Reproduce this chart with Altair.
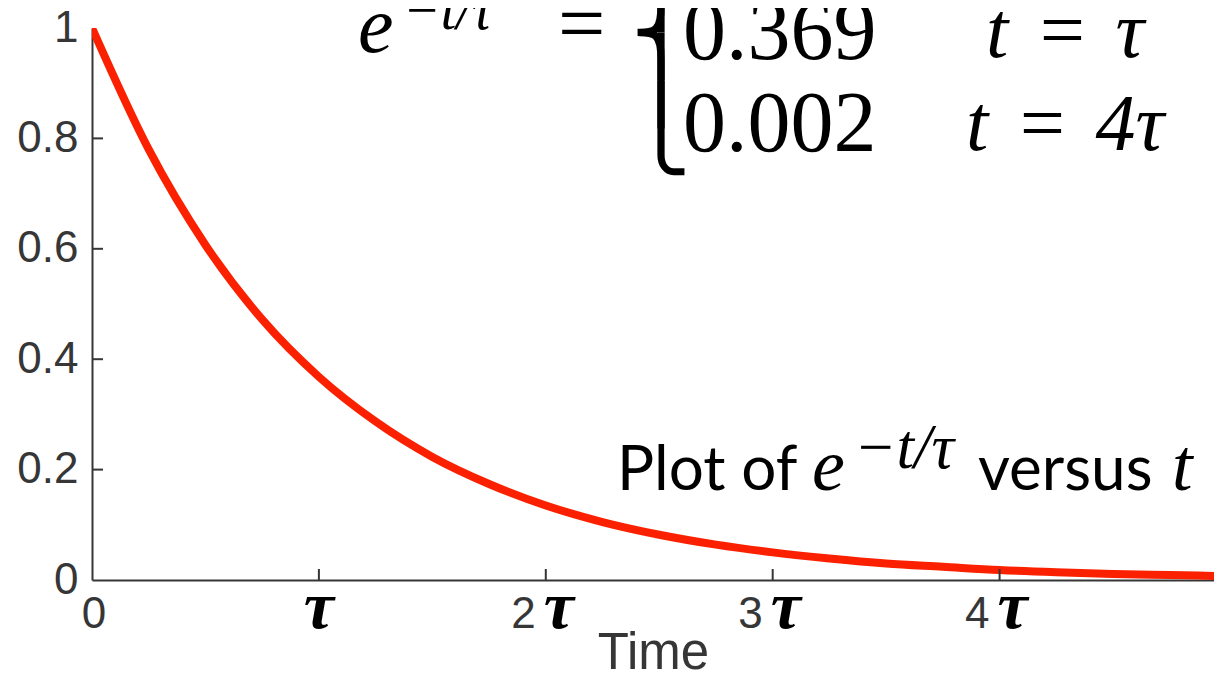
import altair as alt
import pandas as pd

# ---- data (time in units of tau) ----
t_values = [0.0, 0.25, 0.5, 0.75, 1.0, 1.25, 1.5, 1.75, 2.0, 2.25, 2.5,
            2.75, 3.0, 3.25, 3.5, 3.75, 4.0, 4.25, 4.5, 4.75, 5.0]
y_values = [1.0, 0.78, 0.607, 0.472, 0.368, 0.287, 0.223, 0.174, 0.135, 0.105, 0.082,
            0.064, 0.050, 0.039, 0.030, 0.024, 0.018, 0.014, 0.011, 0.009, 0.007]

y_tick_values = [0, 0.2, 0.4, 0.6, 0.8, 1]
x_tick_values = [1, 2, 3, 4]
x_zero_label = ["0"]
x_digit_pos = [2, 3, 4]
x_digit_labels = ["2", "3", "4"]
tau_symbol = "τ"

formula_values = ["0.369", "0.002"]
formula_conditions = ["t\u2004=\u2004τ", "t\u2004=\u20044τ"]

# ---- style ----
W, H = 1122, 552
RED = "#fb2100"
AX = "#363636"
SANS = "Liberation Sans"
SERIF = "Liberation Serif"
HUMAN = "Lato"
BRACE = "DejaVu Sans"

xscale = alt.Scale(domain=[0, 4.945], nice=False, zero=False)
yscale = alt.Scale(domain=[0, 1], nice=False)

curve_df = pd.DataFrame({"t": t_values, "v": y_values})

line = alt.Chart(curve_df).mark_line(
    color=RED, strokeWidth=8, clip=True, interpolate="monotone"
).encode(
    x=alt.X("t:Q", scale=xscale,
            axis=alt.Axis(labels=False, ticks=False, grid=False, domainColor=AX,
                          domainWidth=2, title="Time", titleFont=SANS,
                          titleFontSize=51, titleFontWeight="normal",
                          titleColor=AX, titlePadding=48)),
    y=alt.Y("v:Q", scale=yscale,
            axis=alt.Axis(values=y_tick_values, format="~g", ticks=False, grid=False,
                          domainColor=AX, domainWidth=2, labelFont=SANS,
                          labelFontSize=44, labelColor=AX, labelPadding=14,
                          labelFlush=False, labelOverlap=False, title=None)),
)

ytick = alt.Chart(pd.DataFrame({"v": y_tick_values[1:-1]})).mark_rule(
    color=AX, strokeWidth=2
).encode(y=alt.Y("v:Q"), x=alt.value(0), x2=alt.value(11))

xtick = alt.Chart(pd.DataFrame({"t": x_tick_values})).mark_rule(
    color=AX, strokeWidth=2
).encode(x=alt.X("t:Q"), y=alt.value(H), y2=alt.value(H - 11))

zero_lab = alt.Chart(pd.DataFrame({"t": [0], "s": x_zero_label})).mark_text(
    font=SANS, fontSize=44, color=AX, align="center", baseline="alphabetic", dx=2
).encode(x=alt.X("t:Q"), y=alt.value(600), text="s:N")

digit_lab = alt.Chart(pd.DataFrame({"t": x_digit_pos, "s": x_digit_labels})).mark_text(
    font=SANS, fontSize=44, color=AX, align="right", baseline="alphabetic", dx=-10
).encode(x=alt.X("t:Q"), y=alt.value(600), text="s:N")

tau_one = alt.Chart(pd.DataFrame({"t": [1], "s": [tau_symbol]})).mark_text(
    font=SERIF, fontSize=68, fontStyle="italic", fontWeight="bold", color="black",
    align="center", baseline="alphabetic"
).encode(x=alt.X("t:Q"), y=alt.value(600), text="s:N")

tau_multi = alt.Chart(pd.DataFrame({"t": x_digit_pos, "s": [tau_symbol] * 3})).mark_text(
    font=SERIF, fontSize=68, fontStyle="italic", fontWeight="bold", color="black",
    align="left", baseline="alphabetic", dx=-2
).encode(x=alt.X("t:Q"), y=alt.value(600), text="s:N")


def label(text, x, y, size, font, style="normal", weight="normal", align="left"):
    return alt.Chart(pd.DataFrame({"s": [text]})).mark_text(
        font=font, fontSize=size, fontStyle=style, fontWeight=weight,
        align=align, baseline="alphabetic", color="black"
    ).encode(x=alt.value(x), y=alt.value(y), text="s:N")


annotations = [
    # top formula (cut at the top, as in the slide)
    label("e", 266, 24, 80, SERIF, style="italic"),
    label("−t/τ", 311, 1, 56, SERIF, style="italic"),
    label("=", 466, 24, 84, SERIF),
    # brace built from its pieces
    label("⎧", 569, -64, 80, BRACE, weight=200, align="center"),
    label("⎪", 569, -16, 80, BRACE, weight=200, align="center"),
    label("⎨", 569, 32, 80, BRACE, weight=200, align="center"),
    label("⎪", 569, 80, 80, BRACE, weight=200, align="center"),
    label("⎩", 569, 128, 80, BRACE, weight=200, align="center"),
    label(formula_values[0], 591, 31, 86, SERIF),
    label(formula_values[1], 591, 123, 86, SERIF),
    label(formula_conditions[0], 973, 29, 80, SERIF, style="italic", align="center"),
    label(formula_conditions[1], 973, 122, 80, SERIF, style="italic", align="center"),
    # caption
    label("Plot of", 525, 462, 62, HUMAN),
    label("e", 720, 462, 74, SERIF, style="italic"),
    label("−t/τ", 762, 440, 63, SERIF, style="italic"),
    label("versus", 886, 462, 62, HUMAN),
    label("t", 1080, 462, 74, SERIF, style="italic"),
]

chart = alt.layer(
    line, ytick, xtick, zero_lab, digit_lab, tau_one, tau_multi, *annotations
).properties(
    width=W, height=H,
    padding={"left": 84, "top": 20, "right": 0, "bottom": 93},
    autosize=alt.AutoSizeParams(type="none"),
).configure_view(strokeWidth=0).configure_axis(grid=False)

chart.save("out.html", embed_options={"renderer": "svg", "actions": False})
